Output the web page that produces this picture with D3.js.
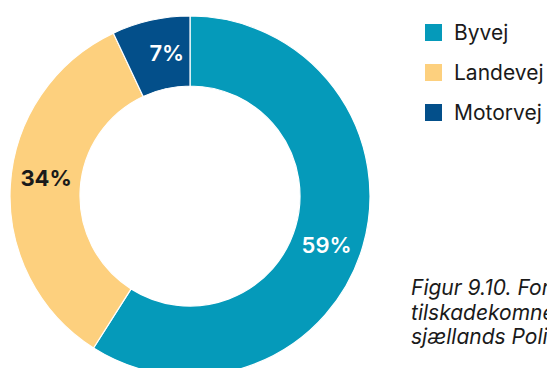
<!DOCTYPE html>
<html>
<head>
<meta charset="utf-8">
<script src="https://cdn.jsdelivr.net/npm/d3@7/dist/d3.min.js"></script>
<style>
  html, body { margin: 0; padding: 0; background: #fff; }
  svg { display: block; font-family: Inter, "Noto Sans", sans-serif; }
</style>
</head>
<body>
<svg id="chart" width="547" height="368"></svg>
<script>
// Road types and their share of injured persons (%)
const categories = ["Byvej", "Landevej", "Motorvej"];
const values = [59, 34, 7];
const colors = ["#059aba", "#fdd07e", "#034f8a"];
const labelColors = ["#ffffff", "#1a1a1a", "#ffffff"];
const captionLines = [
  "Figur 9.10. Fordeling af",
  "tilskadekomne efter vejtype, Midt- og Vest-",
  "sjællands Politikreds"
];

const svg = d3.select("#chart");
const cx = 190, cy = 196, outerR = 180, innerR = 110;

const data = categories.map((c, i) => ({ name: c, value: values[i], color: colors[i], label: labelColors[i] }));

const pie = d3.pie().value(d => d.value).sort(null);
const arc = d3.arc().innerRadius(innerR).outerRadius(outerR);
const arcs = pie(data);

const g = svg.append("g").attr("transform", `translate(${cx},${cy})`);

g.selectAll("path.slice")
  .data(arcs)
  .join("path")
  .attr("class", "slice")
  .attr("d", arc)
  .attr("fill", d => d.data.color)
  .attr("stroke", "#ffffff")
  .attr("stroke-width", 1.2);

// Percentage labels placed inside the ring, slightly rotated clockwise
const labelR = 145, shift = 3.4 * Math.PI / 180;
g.selectAll("text.pct")
  .data(arcs)
  .join("text")
  .attr("class", "pct")
  .attr("x", d => labelR * Math.sin((d.startAngle + d.endAngle) / 2 + shift))
  .attr("y", d => -labelR * Math.cos((d.startAngle + d.endAngle) / 2 + shift))
  .attr("dy", "0.36em")
  .attr("text-anchor", "middle")
  .attr("font-size", 22)
  .attr("font-weight", d => d.data.label === "#ffffff" ? 600 : 700)
  .attr("fill", d => d.data.label)
  .text(d => d.data.value + "%");

// Legend
const legend = svg.append("g").attr("transform", "translate(425,24)");
const item = legend.selectAll("g")
  .data(data)
  .join("g")
  .attr("transform", (d, i) => `translate(0,${i * 40})`);
item.append("rect")
  .attr("width", 17).attr("height", 17)
  .attr("fill", d => d.color);
item.append("text")
  .attr("x", 29).attr("y", 16)
  .attr("font-size", 21)
  .attr("fill", "#1a1a1a")
  .text(d => d.name);

// Caption
svg.append("text")
  .attr("font-size", 21)
  .attr("font-style", "italic")
  .attr("fill", "#1a1a1a")
  .selectAll("tspan")
  .data(captionLines)
  .join("tspan")
  .attr("x", 411)
  .attr("y", (d, i) => 295 + i * 24.5)
  .text(d => d);
</script>
</body>
</html>
